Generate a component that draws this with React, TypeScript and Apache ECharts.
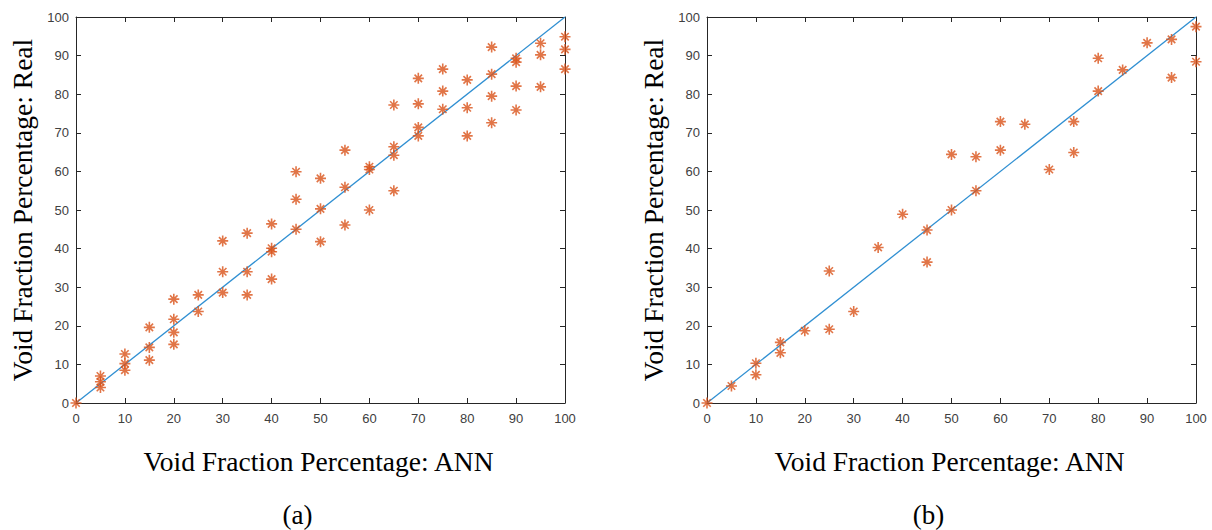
import React, { useEffect, useRef } from "react";
import * as echarts from "echarts";

const annA = [0, 5, 5, 5, 10, 10, 10, 15, 15, 15, 20, 20, 20, 20, 25, 25, 30, 30, 30, 35, 35, 35, 40, 40, 40, 40, 45, 45, 45, 50, 50, 50, 55, 55, 55, 60, 60, 60, 65, 65, 65, 65, 70, 70, 70, 70, 75, 75, 75, 80, 80, 80, 85, 85, 85, 85, 90, 90, 90, 90, 95, 95, 95, 100, 100, 100];
const realA = [0, 7, 5.5, 4, 12.7, 10.2, 8.5, 19.6, 14.4, 11.1, 26.9, 21.7, 18.3, 15.2, 28.0, 23.7, 42.0, 34.0, 28.6, 44.0, 34.0, 28.0, 46.4, 40.1, 39.2, 32.1, 59.9, 52.8, 45.0, 58.2, 50.3, 41.8, 65.5, 55.9, 46.1, 61.2, 60.5, 50.0, 77.2, 66.4, 64.2, 55.0, 84.1, 77.5, 71.4, 69.2, 86.5, 80.8, 76.1, 83.7, 76.5, 69.2, 92.2, 85.2, 79.5, 72.6, 89.3, 88.3, 82.1, 75.9, 93.2, 90.2, 81.9, 94.9, 91.6, 86.5];

const annB = [0, 5, 10, 10, 15, 15, 20, 25, 25, 30, 35, 40, 45, 45, 50, 50, 55, 55, 60, 60, 65, 70, 75, 75, 80, 80, 85, 90, 95, 95, 100, 100];
const realB = [0, 4.4, 10.3, 7.3, 15.7, 13.0, 18.7, 34.2, 19.1, 23.7, 40.3, 48.9, 44.8, 36.5, 64.4, 50.0, 63.8, 55.0, 72.9, 65.5, 72.2, 60.5, 72.9, 64.9, 89.3, 80.8, 86.3, 93.3, 94.2, 84.3, 97.5, 88.4];

const refX = [0, 100];
const refY = [0, 100];

const xTitle = "Void Fraction Percentage: ANN";
const yTitle = "Void Fraction Percentage: Real";
const panelLabels = ["(a)", "(b)"];

const STAR = "path://M0,5L10,5M5,0L5,10M1.6,1.6L8.4,8.4M1.6,8.4L8.4,1.6";
const AXC = "#262626";
const MARK = "#D95319";
const LINE = "#2f8fd2";

export default function App() {
  const ref = useRef<HTMLDivElement>(null);
  useEffect(() => {
    const chart = echarts.init(ref.current!, null, { renderer: "svg" });
    const grids = [
      { left: 76, top: 17, width: 489, height: 386 },
      { left: 707, top: 17, width: 489, height: 386 },
    ];
    const xAxes: any[] = [];
    const yAxes: any[] = [];
    grids.forEach((_, g) => {
      const base = {
        gridIndex: g,
        type: "value",
        min: 0,
        max: 100,
        interval: 10,
        splitLine: { show: false },
        axisLine: { show: true, onZero: false, lineStyle: { color: AXC, width: 1 } },
        axisTick: { show: true, inside: true, length: 5, lineStyle: { color: AXC } },
      };
      xAxes.push({
        ...base,
        position: "bottom",
        axisLabel: { color: "#404040", fontSize: 13, fontFamily: "Liberation Sans, Arial", margin: 9 },
      });
      xAxes.push({ ...base, position: "top", axisLabel: { show: false } });
      yAxes.push({
        ...base,
        position: "left",
        axisLabel: { color: "#404040", fontSize: 13, fontFamily: "Liberation Sans, Arial", margin: 7 },
      });
      yAxes.push({ ...base, position: "right", axisLabel: { show: false } });
    });
    const pairs = (xs: number[], ys: number[]) => xs.map((x, i) => [x, ys[i]]);
    const series: any[] = [];
    [[annA, realA], [annB, realB]].forEach(([xs, ys], g) => {
      series.push({
        type: "line",
        xAxisIndex: g * 2,
        yAxisIndex: g * 2,
        data: pairs(refX, refY),
        showSymbol: false,
        lineStyle: { color: LINE, width: 1.3 },
        silent: true,
        z: 2,
      });
      series.push({
        type: "scatter",
        xAxisIndex: g * 2,
        yAxisIndex: g * 2,
        data: pairs(xs, ys),
        symbol: STAR,
        symbolSize: 11,
        itemStyle: { color: "rgba(0,0,0,0)", borderColor: MARK, borderWidth: 1.6 },
        z: 3,
      });
    });
    const serif = "Liberation Serif, Times New Roman, serif";
    const graphic: any[] = [];
    grids.forEach((gr, g) => {
      const cx = gr.left + gr.width / 2;
      graphic.push({
        type: "text",
        x: cx - 2,
        y: 461,
        style: { text: xTitle, font: `27.5px ${serif}`, fill: "#000", align: "center", verticalAlign: "middle" },
      });
      graphic.push({
        type: "text",
        x: cx - 23,
        y: 515,
        style: { text: panelLabels[g], font: `27px ${serif}`, fill: "#000", align: "center", verticalAlign: "middle" },
      });
      graphic.push({
        type: "text",
        x: gr.left - 54,
        y: gr.top + gr.height / 2,
        rotation: Math.PI / 2,
        style: { text: yTitle, font: `27.5px ${serif}`, fill: "#000", align: "center", verticalAlign: "middle" },
      });
    });
    chart.setOption({
      animation: false,
      backgroundColor: "#fff",
      grid: grids,
      xAxis: xAxes,
      yAxis: yAxes,
      series,
      graphic,
    });
    return () => chart.dispose();
  }, []);
  return <div ref={ref} style={{ position: "absolute", left: 0, top: 0, width: 1212, height: 530 }} />;
}
